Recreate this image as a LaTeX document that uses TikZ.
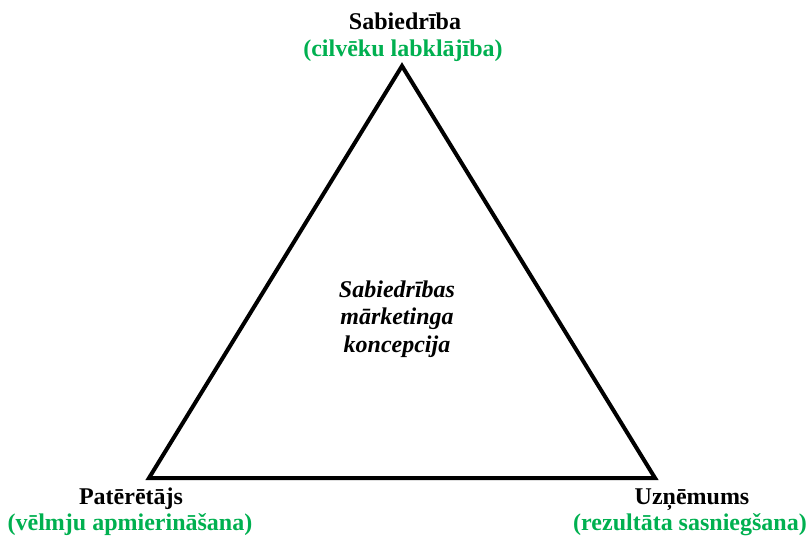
\documentclass[tikz,border=0pt]{standalone}
\usepackage{fontspec}
\setmainfont{Liberation Serif}
\definecolor{lbl}{HTML}{00B050}
\begin{document}
\begin{tikzpicture}[x=1pt,y=-1pt,
  lab/.style={font=\fontsize{24}{27}\selectfont\bfseries, align=center, inner sep=0pt, anchor=base},
  grn/.style={lab, text=lbl},
  cen/.style={font=\fontsize{24}{27.5}\selectfont\bfseries\itshape, align=center, inner sep=0pt}]
\useasboundingbox (0,0) rectangle (808,537);
\coordinate (A) at (402,66);
\coordinate (B) at (149,478);
\coordinate (C) at (655,478);
\draw[line width=4pt, line join=miter] (A) -- (B) -- (C) -- cycle;
\node[lab] (t1) at (405,30) {Sabiedrība};
\node[grn] (t2) at (403,57) {(cilvēku labklājība)};
\node[lab] (l1) at (131,504) {Patērētājs};
\node[grn] (l2) at (130,530) {(vēlmju apmierināšana)};
\node[lab] (r1) at (692,504) {Uzņēmums};
\node[grn] (r2) at (690,530) {(rezultāta sasniegšana)};
\node[cen] (c) at (397,319) {Sabiedrības\\mārketinga\\koncepcija};
\end{tikzpicture}
\end{document}
